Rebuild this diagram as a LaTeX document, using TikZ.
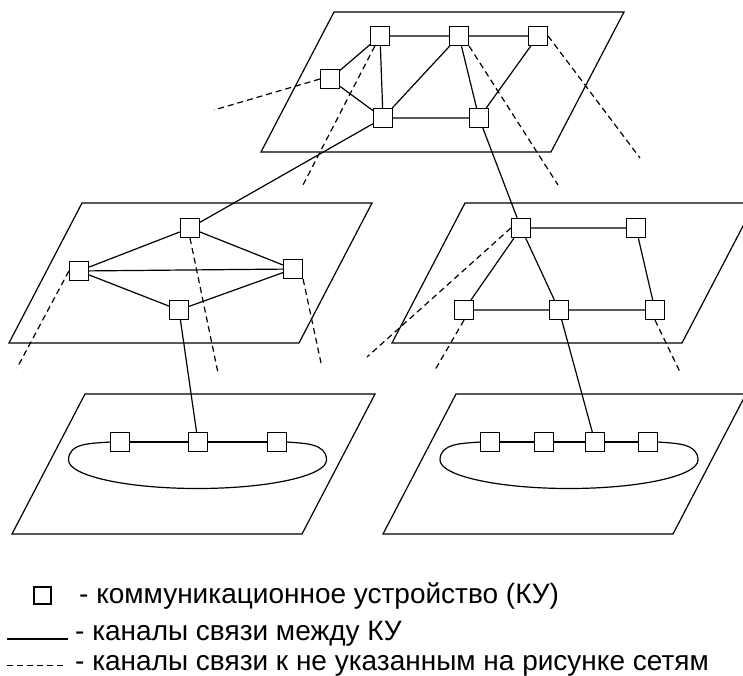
\documentclass[tikz,border=0pt]{standalone}
\usepackage{fontspec}
\setmainfont{Liberation Sans}
\usetikzlibrary{positioning}

\begin{document}
\begin{tikzpicture}[
    x=1pt, y=-1pt,
    ku/.style={rectangle, draw, fill=white, line width=1.2pt,
               minimum size=19pt, inner sep=0pt},
    plane/.style={draw, line width=1.2pt},
    link/.style={line width=1.2pt},
    ext/.style={line width=1.2pt, dash pattern=on 6pt off 4pt},
    keytext/.style={anchor=base west, inner sep=0pt},
    every node/.style={font=\fontsize{28}{34}\selectfont}
]
\useasboundingbox (0,0) rectangle (743,676);
\clip (0,0) rectangle (743,676);

% Planes of the networks
\foreach \px/\py in {334/12, 82/203, 465/203, 85/394, 456/394}
  \draw[plane] (\px,\py) -- ++(290,0) -- ++(-73,140) -- ++(-290,0) -- cycle;

% Upper network
\node[ku] (A) at (380,36) {};
\node[ku] (B) at (459,36) {};
\node[ku] (C) at (538,36) {};
\node[ku] (D) at (330,79) {};
\node[ku] (E) at (383,118) {};
\node[ku] (F) at (479,118) {};

% Middle left network
\node[ku] (H) at (190,228) {};
\node[ku] (I) at (79,271) {};
\node[ku] (J) at (293,269) {};
\node[ku] (K) at (179,310) {};

% Middle right network
\node[ku] (G) at (521,228) {};
\node[ku] (L) at (636,228) {};
\node[ku] (M) at (464,310) {};
\node[ku] (N) at (559,310) {};
\node[ku] (O) at (655,310) {};

% Lower rings
\node[ku] (P1) at (120,442) {};
\node[ku] (P2) at (198,442) {};
\node[ku] (P3) at (277,442) {};
\node[ku] (Q1) at (490,442) {};
\node[ku] (Q2) at (544,442) {};
\node[ku] (Q3) at (595,442) {};
\node[ku] (Q4) at (648,442) {};

% Channels between devices
\draw[link] (A) -- (B) (B) -- (C) (A) -- (D) (D) -- (E) (A) -- (E)
            (B) -- (E) (B) -- (F) (C) -- (F) (E) -- (F);
\draw[link] (H) -- (I) (H) -- (J) (I) -- (J) (I) -- (K) (K) -- (J);
\draw[link] (G) -- (L) (G) -- (M) (G) -- (N) (M) -- (N) (N) -- (O) (L) -- (O);
\draw[link] (P1) -- (P2) (P2) -- (P3);
\draw[link] (Q1) -- (Q2) (Q2) -- (Q3) (Q3) -- (Q4);

% between levels
\draw[link] (E) -- (H);
\draw[link] (F) -- (G);
\draw[link] (K) -- (P2);
\draw[link] (N) -- (Q3);

% ring closures
\draw[link] (P1.west) to[out=185, in=90] (68.5,460)
    arc[start angle=180, end angle=0, x radius=129, y radius=28.5]
    to[out=90, in=-5] (P3.east);
\draw[link] (Q1.west) to[out=185, in=90] (440,460)
    arc[start angle=180, end angle=0, x radius=129, y radius=28.5]
    to[out=90, in=-5] (Q4.east);

% Channels to other networks (dashed)
\coordinate (xD) at (214,110);
\coordinate (xA) at (303,185);
\coordinate (xB) at (558,185);
\coordinate (xC) at (640,158);
\coordinate (xI) at (17,368);
\coordinate (xH) at (218,373);
\coordinate (xJ) at (321,363);
\coordinate (xG) at (367,357);
\coordinate (xM) at (435,370);
\coordinate (xO) at (680,372);
\draw[ext] (D.west) -- (xD);
\draw[ext] (A) -- (xA);
\draw[ext] (B.south east) -- (xB);
\draw[ext] (C.east) -- (xC);
\draw[ext] (I.west) -- (xI);
\draw[ext] (H.south) -- (xH);
\draw[ext] (J.south east) -- (xJ);
\draw[ext] (G.west) -- (xG);
\draw[ext] (M.south) -- (xM);
\draw[ext] (O.south) -- (xO);

% Legend
\node[ku, minimum size=17pt] (keyku) at (42.5,595.5) {};
\node[keytext] (keykutxt) at (79,603) {- коммуникационное устройство (КУ)};
\coordinate (keylinea) at (7,639);
\coordinate (keylineb) at (68,639);
\draw[link] (keylinea) -- (keylineb);
\node[keytext] (keylinetxt) at (75,640) {- каналы связи между КУ};
\coordinate (keyexta) at (7,665);
\coordinate (keyextb) at (64,665);
\draw[ext, line width=1pt] (keyexta) -- (keyextb);
\node[keytext] (keyexttxt) at (75,670) {- каналы связи к не указанным на рисунке сетям};
\end{tikzpicture}
\end{document}
